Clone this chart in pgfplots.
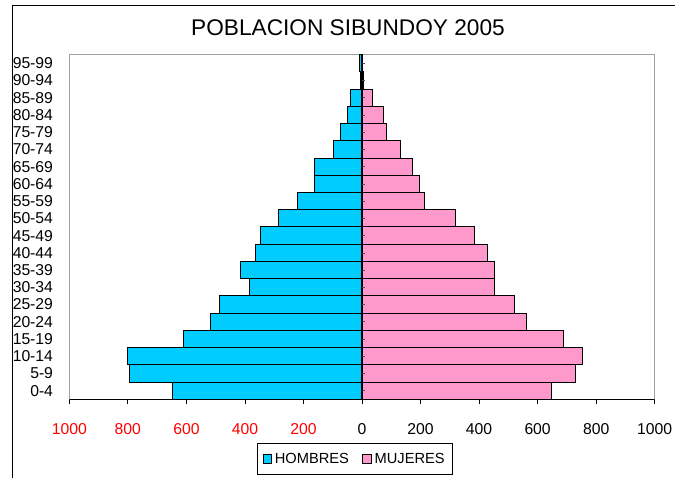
\documentclass[border=0pt]{standalone}
\usepackage{pgfplots}
\usepackage{pgfplotstable}
\pgfplotsset{compat=1.18}
\usepackage{fontspec}
\setmainfont{Liberation Sans}
\definecolor{hombres}{RGB}{0,204,255}
\definecolor{mujeres}{RGB}{255,153,204}
\definecolor{plotframe}{RGB}{160,160,160}
\pgfplotstableread{
g h m
0 -647 648
1 -796 731
2 -800 753
3 -610 690
4 -517 561
5 -487 520
6 -384 453
7 -416 453
8 -364 428
9 -347 386
10 -287 319
11 -219 212
12 -163 196
13 -164 171
14 -96 130
15 -75 83
16 -50 73
17 -39 36
18 -4 4
19 -9 2
}\datos
\begin{document}
\begin{tikzpicture}
\useasboundingbox (0,0) rectangle (506.25pt,358.5pt);
\draw[black, line width=0.75pt] (9.375pt,0) -- (9.375pt,354pt) -- (506.25pt,354pt);
\node[font=\fontsize{17}{20}\selectfont] at (261pt,337.5pt) {POBLACION SIBUNDOY 2005};
\begin{axis}[
  at={(51.98pt,59.03pt)}, anchor=south west,
  scale only axis, width=439.05pt, height=258.45pt,
  xbar, bar width=1,
  xmin=-1000, xmax=1000, ymin=-0.5, ymax=19.5,
  xtick={-1000,-800,...,1000},
  xticklabels={\textcolor{red}{1000},\textcolor{red}{800},\textcolor{red}{600},\textcolor{red}{400},\textcolor{red}{200},0,200,400,600,800,1000},
  ytick={0,...,19},
  yticklabels={0-4,5-9,10-14,15-19,20-24,25-29,30-34,35-39,40-44,45-49,50-54,55-59,60-64,65-69,70-74,75-79,80-84,85-89,90-94,95-99},
  xtick pos=bottom, tick align=outside, major tick length=3.5pt,
  xtick style={black, line width=0.6pt},
  ytick style={draw=none},
  axis line style={draw=plotframe, line width=0.75pt},
  tick label style={font=\fontsize{11.8}{14}\selectfont},
  xticklabel style={anchor=center, yshift=-18.5pt},
  yticklabel style={anchor=east, xshift=-5.2pt},
  legend columns=2,
  legend style={at={(axis description cs:0.488,-0.174)}, anchor=center, draw=black, line width=0.75pt,
    font=\fontsize{11}{13}\selectfont, inner xsep=4pt, inner ysep=5pt,
    /tikz/every even column/.append style={column sep=8pt}},
  legend image code/.code={\draw[#1, line width=0.6pt] (0pt,-3.3pt) rectangle (6.6pt,3.3pt);},
]
\addplot[fill=hombres, draw=black, line width=0.75pt, bar shift=0pt] table[x=h, y=g] {\datos};
\addlegendentry{HOMBRES}
\addplot[fill=mujeres, draw=black, line width=0.75pt, bar shift=0pt] table[x=m, y=g] {\datos};
\addlegendentry{MUJERES}
\draw[black, line width=1.5pt] (axis cs:0,-0.5) -- (axis cs:0,19.5);
\pgfplotsinvokeforeach{0,...,19}{\draw[black!70, line width=0.5pt] (axis cs:0,#1) -- ++(2pt,0pt);}
\draw[black, line width=0.75pt] (rel axis cs:0,0) -- (rel axis cs:1,0);
\end{axis}
\end{tikzpicture}
\end{document}
